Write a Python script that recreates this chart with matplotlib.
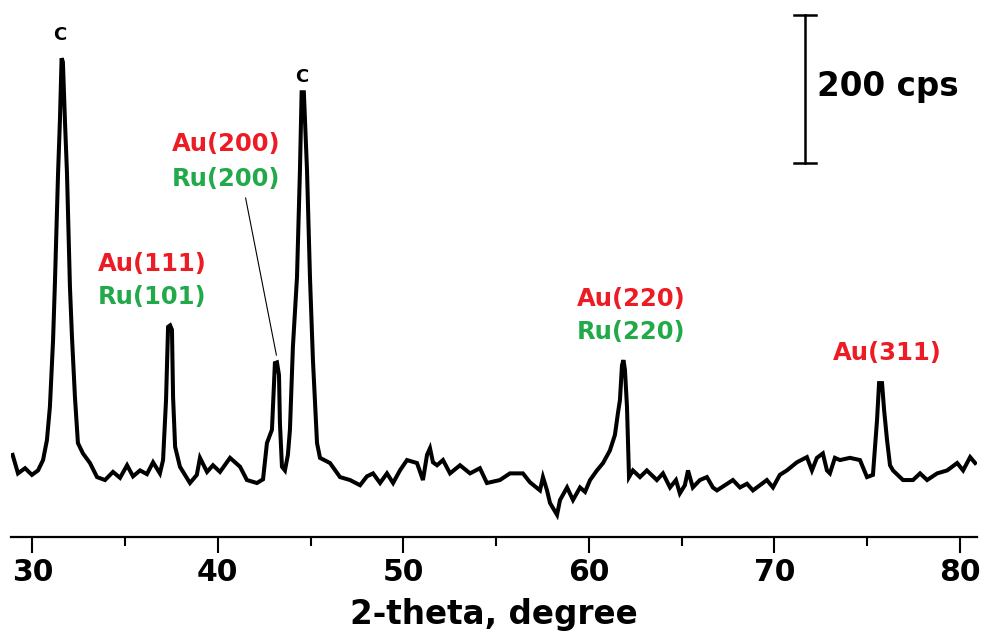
import matplotlib
matplotlib.use("Agg")
import matplotlib.pyplot as plt
from matplotlib.ticker import MultipleLocator

# XRD pattern: 2-theta (degree) and intensity (cps)
two_theta = [
    28.94, 29.23, 29.61, 29.98, 30.31, 30.58, 30.79, 30.95, 31.12, 31.22,
    31.39, 31.49, 31.58, 31.65, 31.76, 31.87, 32.03, 32.14, 32.30, 32.46,
    32.73, 33.11, 33.49, 33.92, 34.35, 34.73, 35.11, 35.43, 35.81, 36.18,
    36.51, 36.88, 37.05, 37.21, 37.32, 37.43, 37.53, 37.59, 37.70, 37.96,
    38.23, 38.50, 38.87, 39.04, 39.42, 39.74, 40.12, 40.66, 41.20, 41.57,
    42.11, 42.44, 42.65, 42.92, 43.08, 43.19, 43.30, 43.35, 43.46, 43.62,
    43.78, 43.89, 44.05, 44.27, 44.43, 44.52, 44.64, 44.81, 44.97, 45.13,
    45.35, 45.51, 46.05, 46.59, 47.13, 47.67, 48.04, 48.37, 48.75, 49.12,
    49.45, 49.82, 50.20, 50.74, 51.06, 51.28, 51.44, 51.60, 51.82, 52.14,
    52.52, 53.06, 53.60, 54.13, 54.51, 55.21, 55.75, 56.45, 56.83, 57.37,
    57.53, 57.75, 57.91, 58.29, 58.45, 58.83, 59.15, 59.53, 59.80, 60.07,
    60.44, 60.77, 61.14, 61.41, 61.57, 61.68, 61.79, 61.87, 61.95, 62.06,
    62.17, 62.38, 62.76, 63.13, 63.46, 63.67, 64.00, 64.38, 64.70, 64.91,
    65.18, 65.35, 65.61, 65.99, 66.37, 66.69, 66.91, 67.34, 67.77, 68.15,
    68.53, 68.85, 69.23, 69.60, 69.93, 70.30, 70.68, 71.22, 71.76, 72.03,
    72.30, 72.62, 72.84, 73.00, 73.27, 73.54, 74.08, 74.62, 75.00, 75.32,
    75.54, 75.65, 75.81, 75.92, 76.08, 76.24, 76.40, 76.94, 77.48, 77.86,
    78.24, 78.78, 79.32, 79.86, 80.18, 80.56, 80.83,
]
intensity = [
    111, 86, 93, 84, 90, 104, 131, 176, 266, 343,
    492, 563, 647, 642, 563, 492, 338, 270, 189, 127,
    113, 100, 81, 77, 88, 80, 97, 82, 90, 85,
    101, 86, 104, 185, 284, 286, 280, 189, 122, 95,
    84, 73, 84, 107, 88, 97, 88, 107, 95, 77,
    73, 78, 127, 145, 235, 236, 219, 154, 95, 90,
    111, 145, 257, 351, 496, 601, 601, 496, 351, 239,
    127, 107, 100, 81, 77, 70, 82, 86, 73, 86,
    73, 90, 104, 100, 77, 111, 120, 101, 97, 104,
    86, 97, 86, 93, 73, 77, 86, 86, 74, 63,
    81, 63, 46, 30, 50, 67, 50, 67, 61, 77,
    90, 100, 117, 138, 167, 185, 232, 239, 226, 176,
    81, 90, 81, 90, 82, 77, 86, 67, 77, 59,
    70, 90, 67, 77, 81, 67, 63, 70, 77, 67,
    72, 63, 70, 77, 67, 84, 90, 101, 108, 90,
    107, 113, 90, 86, 107, 104, 107, 104, 81, 84,
    158, 208, 208, 172, 131, 97, 90, 77, 77, 86,
    77, 86, 90, 100, 90, 108, 100,
]

# Reflection labels: (text, colour, 2-theta, intensity)
RED = "#ed1c24"
GREEN = "#22a94a"
peak_labels = [
    ("C", "black", 31.49, 678),
    ("C", "black", 44.50, 622),
    ("Au(111)", RED, 36.45, 369),
    ("Ru(101)", GREEN, 36.45, 324),
    ("Au(200)", RED, 40.44, 531),
    ("Ru(200)", GREEN, 40.44, 484),
    ("Au(220)", RED, 62.27, 322),
    ("Ru(220)", GREEN, 62.27, 277),
    ("Au(311)", RED, 76.08, 249),
]

# Vertical intensity scale bar
scale_x = 71.66
scale_lo, scale_hi = 505, 705
scale_text = "200 cps"

fig = plt.figure(figsize=(9.87, 6.44), dpi=100)
ax = fig.add_axes([0.0111, 0.1661, 0.9784, 0.8339])

ax.plot(two_theta, intensity, color="black", lw=2.9, solid_joinstyle="miter")

ax.set_xlim(28.85, 80.91)
ax.set_ylim(0, 725.7)

for side in ("top", "left", "right"):
    ax.spines[side].set_visible(False)
ax.spines["bottom"].set_linewidth(1.6)
ax.set_yticks([])

ax.xaxis.set_major_locator(MultipleLocator(10))
ax.xaxis.set_minor_locator(MultipleLocator(5))
ax.tick_params(axis="x", which="major", direction="out", length=11.5, width=1.5, pad=3.5)
ax.tick_params(axis="x", which="minor", direction="out", length=6.5, width=1.5)
for lbl in ax.get_xticklabels():
    lbl.set_fontsize(21.5)
    lbl.set_fontweight("bold")

ax.set_xlabel("2-theta, degree", fontsize=23.5, fontweight="bold", labelpad=8)

for text, color, x, y in peak_labels:
    size = 13 if text == "C" else 17.5
    ax.text(x, y, text, color=color, fontsize=size, fontweight="bold",
            ha="center", va="center")

# Leader from the Au(200)/Ru(200) label to its peak
ax.annotate("", xy=(43.19, 242), xytext=(41.47, 462),
            arrowprops=dict(arrowstyle="-", color="black", lw=0.8))

# Scale bar with caps
cap = 0.59
ax.plot([scale_x, scale_x], [scale_lo, scale_hi], color="black", lw=1.8, clip_on=False)
ax.plot([scale_x - cap, scale_x + cap], [scale_lo, scale_lo], color="black", lw=1.8, clip_on=False)
ax.plot([scale_x - cap, scale_x + cap], [scale_hi, scale_hi], color="black", lw=1.8, clip_on=False)
ax.text(scale_x + 0.64, (scale_lo + scale_hi) / 2 + 4, scale_text, fontsize=23.5,
        fontweight="bold", ha="left", va="center")

fig.savefig("out.png", dpi=100)
